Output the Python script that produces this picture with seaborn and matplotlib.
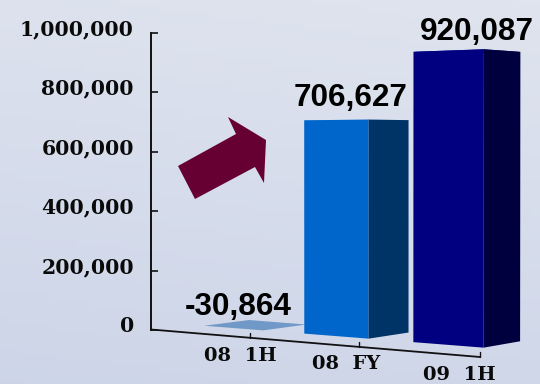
import numpy as np
import pandas as pd
import matplotlib
matplotlib.use("Agg")
import matplotlib.pyplot as plt
import seaborn as sns
from matplotlib.patches import Polygon
from matplotlib.transforms import Affine2D, ScaledTranslation, Transform

# Results by period
periods = ["08  1H", "08  FY", "09  1H"]
results = [-30864, 706627, 920087]
result_labels = ["-30,864", "706,627", "920,087"]
value_ticks = [0, 200000, 400000, 600000, 800000, 1000000]
value_tick_labels = ["0", "200,000", "400,000", "600,000", "800,000", "1,000,000"]

# Face colours per bar
front_colors = ["#7099C8", "#0066CC", "#000080"]
side_colors = ["#7099C8", "#003366", "#00003F"]
top_colors = ["#7099C8", "#5E92D0", "#1A1A80"]

# Canvas and camera set-up, in canvas pixels measured from the top-left corner
W, H = 540, 384
BAR_HALF_WIDTH = 0.3
VANISH = np.array([1700.0, 135.0])
DEPTH_SCALE = 0.97
LEFT_2, RIGHT_2 = 1 - BAR_HALF_WIDTH, 1 + BAR_HALF_WIDTH
LEFT_3, RIGHT_3 = 2 - BAR_HALF_WIDTH, 2 + BAR_HALF_WIDTH
PLANE_SRC = [(LEFT_2, 0), (LEFT_2, 706627), (RIGHT_2, 0), (RIGHT_2, 706627),
             (LEFT_3, 0), (LEFT_3, 920087), (RIGHT_3, 0), (RIGHT_3, 920087)]
PLANE_DST = [(305, 334), (305, 120), (367, 338), (367, 120),
             (414, 343), (414, 51), (484, 347), (484, 50)]


def fit_homography(src, dst):
    rows, rhs = [], []
    for (u, v), (x, y) in zip(src, dst):
        v = v / 1e6
        rows.append([u, v, 1, 0, 0, 0, -u * x, -v * x])
        rows.append([0, 0, 0, u, v, 1, -u * y, -v * y])
        rhs += [x, y]
    solution = np.linalg.lstsq(np.array(rows, float), np.array(rhs, float), rcond=None)[0]
    return np.append(solution, 1).reshape(3, 3)


HOMOGRAPHY = fit_homography(PLANE_SRC, PLANE_DST)


def front_plane(points):
    pts = np.atleast_2d(np.asarray(points, float))
    q = np.column_stack([pts[:, 0], pts[:, 1] / 1e6, np.ones(len(pts))]) @ HOMOGRAPHY.T
    return q[:, :2] / q[:, 2:]


def back_plane(points):
    return VANISH + DEPTH_SCALE * (front_plane(points) - VANISH)


class FrontPlane(Transform):
    """Maps (category, value) onto the receding front plane of the bars."""
    input_dims = 2
    output_dims = 2
    is_separable = False
    has_inverse = False

    def transform_non_affine(self, values):
        return front_plane(values)


canvas = Affine2D().scale(1, -1).translate(0, H)

sns.set_theme(style="white")
fig = plt.figure(figsize=(W / 100, H / 100), dpi=100)

# Soft bluish backdrop, lighter towards the top
bg = fig.add_axes([0, 0, 1, 1], zorder=0)
gy, gx = np.mgrid[0:1:64j, 0:1:64j]
top_rgb = np.array([0.875, 0.895, 0.935])
bottom_rgb = np.array([0.805, 0.835, 0.910])
shade = (0.85 * gy + 0.15 * (1 - gx))[..., None]
bg.imshow(top_rgb * (1 - shade) + bottom_rgb * shade, extent=[0, 1, 0, 1], aspect="auto", origin="upper")
bg.axis("off")

# Value axis: 0 sits at y=330 and 1,000,000 at y=33
ax_left, ax_bottom, ax_top, ax_right = 150.5, 330, 33, 530
ax = fig.add_axes([ax_left / W, (H - ax_bottom) / H, (ax_right - ax_left) / W, (ax_bottom - ax_top) / H], zorder=1)
ax.patch.set_alpha(0)

# The axis starts at zero, so a loss is shown as a flat tile on the floor
drawn = np.clip(results, 0, None)
frame = pd.DataFrame({"period": periods, "drawn": drawn})
sns.barplot(data=frame, x="period", y="drawn", hue="period", order=periods, hue_order=periods,
            palette=front_colors, width=2 * BAR_HALF_WIDTH, legend=False, saturation=1,
            edgecolor="none", linewidth=0, ax=ax)
ax.set_ylim(0, 1000000)
ax.set_xlabel("")
ax.set_ylabel("")
ax.set_xticks([])
ax.set_yticks(value_ticks)
ax.set_yticklabels(value_tick_labels, family="DejaVu Serif", fontweight="bold", fontsize=14.7, color="#0a0a0a")
ax.tick_params(axis="y", direction="in", length=5, width=1.2, color="#111111", left=True, pad=12)
# The value labels sit a little above their tick marks
lift = ScaledTranslation(0, 4 / 72, fig.dpi_scale_trans)
for label in ax.get_yticklabels():
    label.set_transform(label.get_transform() + lift)
for name in ["top", "right", "bottom"]:
    ax.spines[name].set_visible(False)
ax.spines["left"].set_color("#111111")
ax.spines["left"].set_linewidth(1.4)

# Bars: the front faces go through the perspective plane, side and top faces recede from them
plane_to_canvas = FrontPlane() + canvas
for i, bar in enumerate(list(ax.patches)):
    x0, x1 = bar.get_x(), bar.get_x() + bar.get_width()
    v = bar.get_height()
    bar.set_transform(plane_to_canvas)
    bar.set_clip_on(False)
    bar.set_zorder(4)
    corners = [(x0, v), (x1, v)]
    top = np.vstack([front_plane(corners), back_plane(corners)[::-1]])
    ax.add_patch(Polygon(top, closed=True, facecolor=top_colors[i], edgecolor="none",
                         transform=canvas, clip_on=False, zorder=3))
    if v > 0:
        edge = [(x1, 0), (x1, v)]
        side = np.vstack([front_plane(edge), back_plane(edge)[::-1]])
        ax.add_patch(Polygon(side, closed=True, facecolor=side_colors[i], edgecolor="none",
                             transform=canvas, clip_on=False, zorder=4))

# Floor axis with its period ticks and labels
floor_start = np.array([151.0, 329.5])
floor_end = np.array([480.0, 357.0])
tick_positions = [0.30, 0.633, 1.0]
label_centres = [(240, 356), (346, 364), (459, 375)]
ax.plot(*np.column_stack([floor_start, floor_end]), color="#111111", lw=1.3,
        transform=canvas, clip_on=False, zorder=2)
for t, name, (lx, ly) in zip(tick_positions, periods, label_centres):
    p = floor_start + t * (floor_end - floor_start)
    ax.plot([p[0], p[0]], [p[1], p[1] - 5], color="#111111", lw=1,
            transform=canvas, clip_on=False, zorder=2)
    ax.text(lx, ly, name, transform=canvas, ha="center", va="center", family="DejaVu Serif",
            fontweight="bold", fontsize=14, color="#0a0a0a")

# Value labels above each bar
label_nudges = [(5, 13), (15, 14), (29, 11)]
for i, (text, (dx, dy)) in enumerate(zip(result_labels, label_nudges)):
    cx, cy = front_plane([(i, drawn[i])])[0]
    ax.text(cx + dx, cy - dy, text, transform=canvas, ha="center", va="baseline",
            family="Liberation Sans", fontweight="bold", fontsize=22.7, color="black", zorder=6)

# Rising arrow
arrow = [(178, 166), (236, 134), (228, 117), (266, 140), (264, 183), (255, 167), (195, 199)]
ax.add_patch(Polygon(arrow, closed=True, facecolor="#660033", edgecolor="none",
                     transform=canvas, clip_on=False, zorder=5))

fig.savefig("out.png", dpi=100)
